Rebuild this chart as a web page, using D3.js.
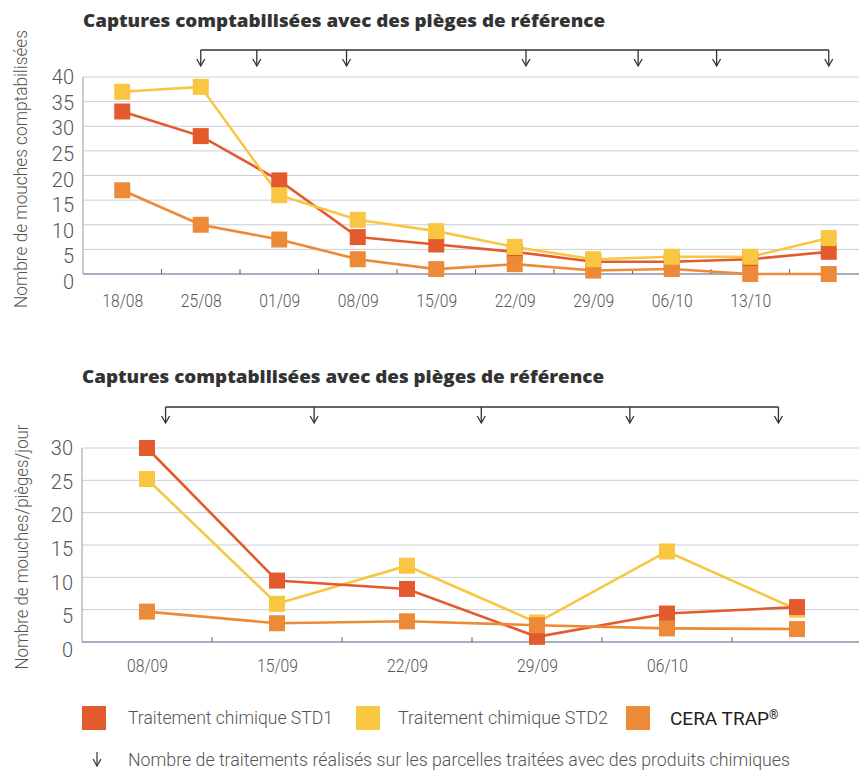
<!DOCTYPE html>
<html>
<head>
<meta charset="utf-8">
<script src="https://cdn.jsdelivr.net/npm/d3@7"></script>
<style>
  body { margin: 0; background: #fff; }
  text { font-family: Roboto, "Noto Sans", sans-serif; }
</style>
</head>
<body>
<script>
// --- data: top chart (captures per reference trap) ---
const topDates = ['18/08', '25/08', '01/09', '08/09', '15/09', '22/09', '29/09', '06/10', '13/10', '20/10'];
const topTickLabels = ['18/08', '25/08', '01/09', '08/09', '15/09', '22/09', '29/09', '06/10', '13/10', ''];
const topStd1 = [33, 28, 19, 7.5, 6, 4.5, 2.5, 2.5, 3, 4.5];
const topStd2 = [37, 38, 16, 11, 8.7, 5.5, 3, 3.5, 3.5, 7.3];
const topCera = [17, 10, 7, 3, 1, 2, 0.7, 1, 0, 0];
const topTreatments = ['25/08', '30/08', '07/09', '23/09', '03/10', '10/10', '20/10'];
const topYTicks = [0, 5, 10, 15, 20, 25, 30, 35, 40];

// --- data: bottom chart (flies / trap / day) ---
const botDates = ['08/09', '15/09', '22/09', '29/09', '06/10', '13/10'];
const botTickLabels = ['08/09', '15/09', '22/09', '29/09', '06/10', ''];
const botStd1 = [30, 9.5, 8.2, 0.8, 4.4, 5.4];
const botStd2 = [25.2, 5.9, 11.8, 3, 14, 5];
const botCera = [4.7, 2.9, 3.2, 2.6, 2.1, 2];
const botTreatments = ['09/09', '17/09', '26/09', '04/10', '12/10'];
const botYTicks = [0, 5, 10, 15, 20, 25, 30];

const seriesNames = ['Traitement chimique STD1', 'Traitement chimique STD2', 'CERA TRAP'];
const seriesColors = ['#e35b2c', '#f8c640', '#ec8a37'];

const width = 859;
const height = 772;
const parseDay = d3.timeParse('%d/%m');

const svg = d3.select('body')
    .append('svg')
    .attr('width', width)
    .attr('height', height);

function drawPanel(p) {
    const g = svg.append('g');

    const x = d3.scaleBand()
        .domain(p.dates)
        .range([p.left, p.bandRight]);

    const y = d3.scaleLinear()
        .domain([0, d3.max(p.yTicks)])
        .range([p.bottom, p.top]);

    // tick labels sit on a slightly taller ladder than the grid
    const yLab = d3.scaleLinear()
        .domain(y.domain())
        .range([p.bottom + 8, p.top]);

    const cx = d => x(d) + x.bandwidth() / 2;

    // treatment day -> x, aligned on the weekly points
    const d0 = parseDay(p.dates[0]);
    const xDay = d3.scaleLinear()
        .domain([0, 7])
        .range([cx(p.dates[0]), cx(p.dates[1])]);
    const dayX = s => xDay(d3.timeDay.count(d0, parseDay(s)));

    // title
    g.append('text')
        .attr('x', p.left)
        .attr('y', p.titleY)
        .attr('fill', '#333')
        .attr('textLength', 522)
        .attr('lengthAdjust', 'spacingAndGlyphs')
        .style('font-family', '"Open Sans", sans-serif')
        .style('font-weight', 800)
        .style('font-size', '18px')
        .text('Captures comptabilisées avec des pièges de référence');

    // grid
    g.selectAll('.grid')
        .data(p.yTicks.filter(v => v > 0))
        .enter()
        .append('line')
        .attr('x1', p.left)
        .attr('x2', width)
        .attr('y1', d => y(d))
        .attr('y2', d => y(d))
        .attr('stroke', '#c9ced6')
        .attr('stroke-width', 1);

    // axes lines
    g.append('line')
        .attr('x1', p.left).attr('x2', p.left)
        .attr('y1', y(d3.max(p.yTicks))).attr('y2', y(0))
        .attr('stroke', '#9a9a9a').attr('stroke-width', 1);
    g.append('line')
        .attr('x1', p.left).attr('x2', width)
        .attr('y1', y(0)).attr('y2', y(0))
        .attr('stroke', '#8794ab').attr('stroke-width', 1.5);

    // small ticks between weeks
    g.selectAll('.xtick')
        .data(p.dates.slice(1))
        .enter()
        .append('line')
        .attr('x1', d => x(d)).attr('x2', d => x(d))
        .attr('y1', y(0)).attr('y2', y(0) - 5)
        .attr('stroke', '#666').attr('stroke-width', 1);

    // y labels
    g.selectAll('.ylab')
        .data(p.yTicks)
        .enter()
        .append('text')
        .attr('x', p.left - 9)
        .attr('y', d => yLab(d))
        .attr('dy', '0.35em')
        .attr('text-anchor', 'end')
        .attr('fill', '#555')
        .style('font-weight', 300)
        .style('font-size', '20px')
        .text(d => d);

    // x labels (condensed look)
    g.selectAll('.xlab')
        .data(p.dates.filter((d, i) => p.tickLabels[i] !== ''))
        .enter()
        .append('text')
        .attr('x', d => cx(d) - 20)
        .attr('y', p.xLabelY)
        .attr('dy', '0.35em')
        .attr('fill', '#555')
        .attr('textLength', 41)
        .attr('lengthAdjust', 'spacingAndGlyphs')
        .style('font-weight', 300)
        .style('font-size', '19px')
        .text(d => p.tickLabels[p.dates.indexOf(d)]);

    // y title
    g.append('text')
        .attr('transform', `translate(${p.yTitleX},${p.yTitleY}) rotate(-90)`)
        .attr('text-anchor', 'middle')
        .attr('dy', '0.35em')
        .attr('fill', '#555')
        .attr('textLength', p.yTitleLen)
        .attr('lengthAdjust', 'spacingAndGlyphs')
        .style('font-weight', 300)
        .style('font-size', '19px')
        .text(p.yTitle);

    // treatment bracket + arrows
    const tx = p.treatments.map(dayX);
    g.append('line')
        .attr('x1', d3.min(tx)).attr('x2', d3.max(tx))
        .attr('y1', p.bracketY).attr('y2', p.bracketY)
        .attr('stroke', '#333').attr('stroke-width', 1.3);
    const arrows = g.selectAll('.arrow')
        .data(tx)
        .enter()
        .append('g');
    arrows.append('line')
        .attr('x1', d => d).attr('x2', d => d)
        .attr('y1', p.bracketY).attr('y2', p.bracketY + 16)
        .attr('stroke', '#333').attr('stroke-width', 1.3);
    arrows.append('path')
        .attr('d', d => `M${d - 4},${p.bracketY + 9} L${d},${p.bracketY + 16} L${d + 4},${p.bracketY + 9}`)
        .attr('fill', 'none')
        .attr('stroke', '#333').attr('stroke-width', 1.3);

    // lines then squares
    const line = d3.line()
        .x((d, i) => cx(p.dates[i]))
        .y(d => y(d));

    p.order.forEach(k => {
        g.append('path')
            .datum(p.series[k])
            .attr('d', line)
            .attr('fill', 'none')
            .attr('stroke', seriesColors[k])
            .attr('stroke-width', 2.6);
    });
    p.order.forEach(k => {
        g.selectAll('.sq' + k)
            .data(p.series[k])
            .enter()
            .append('rect')
            .attr('x', (d, i) => cx(p.dates[i]) - 8)
            .attr('y', d => y(d) - 8)
            .attr('width', 16)
            .attr('height', 16)
            .attr('fill', seriesColors[k]);
    });
}

drawPanel({
    dates: topDates, tickLabels: topTickLabels,
    series: [topStd1, topStd2, topCera], order: [0, 2, 1],
    yTicks: topYTicks, treatments: topTreatments,
    left: 83, bandRight: 868, top: 77, bottom: 274,
    titleY: 27, xLabelY: 300, bracketY: 50,
    yTitle: 'Nombre de mouches comptabilisées', yTitleX: 20, yTitleY: 169, yTitleLen: 278
});

drawPanel({
    dates: botDates, tickLabels: botTickLabels,
    series: [botStd1, botStd2, botCera], order: [1, 0, 2],
    yTicks: botYTicks, treatments: botTreatments,
    left: 82, bandRight: 862, top: 448, bottom: 642,
    titleY: 383, xLabelY: 665, bracketY: 407,
    yTitle: 'Nombre de mouches/pièges/jour', yTitleX: 21, yTitleY: 547, yTitleLen: 245
});

// legend
const legendX = [82, 356, 626];
const legend = svg.selectAll('.legend')
    .data(seriesNames)
    .enter()
    .append('g')
    .attr('transform', (d, i) => `translate(${legendX[i]},706)`);
legend.append('rect')
    .attr('width', 24).attr('height', 24)
    .attr('fill', (d, i) => seriesColors[i]);
legend.filter((d, i) => i < 2)
    .append('text')
    .attr('x', (d, i) => i === 0 ? 46 : 42)
    .attr('y', 12)
    .attr('dy', '0.35em')
    .attr('fill', '#555')
    .attr('textLength', (d, i) => i === 0 ? 205 : 210)
    .attr('lengthAdjust', 'spacingAndGlyphs')
    .style('font-weight', 300)
    .style('font-size', '18px')
    .text(d => d);
const cera = legend.filter((d, i) => i === 2)
    .append('text')
    .attr('x', 44)
    .attr('y', 12)
    .attr('dy', '0.35em')
    .attr('fill', '#222')
    .style('font-weight', 400)
    .style('font-size', '19px');
cera.append('tspan').text(d => d);
cera.append('tspan')
    .attr('dy', '-0.45em')
    .style('font-size', '12px')
    .text('®');

const note = svg.append('g').attr('transform', 'translate(97,752)');
note.append('line')
    .attr('x1', 0).attr('x2', 0).attr('y1', 0).attr('y2', 14)
    .attr('stroke', '#333').attr('stroke-width', 1.2);
note.append('path')
    .attr('d', 'M-4,7 L0,14 L4,7')
    .attr('fill', 'none').attr('stroke', '#333').attr('stroke-width', 1.2);
note.append('text')
    .attr('x', 31).attr('y', 8).attr('dy', '0.35em')
    .attr('fill', '#555')
    .attr('textLength', 662)
    .attr('lengthAdjust', 'spacingAndGlyphs')
    .style('font-weight', 300)
    .style('font-size', '18px')
    .text('Nombre de traitements réalisés sur les parcelles traitées avec des produits chimiques');
</script>
</body>
</html>
